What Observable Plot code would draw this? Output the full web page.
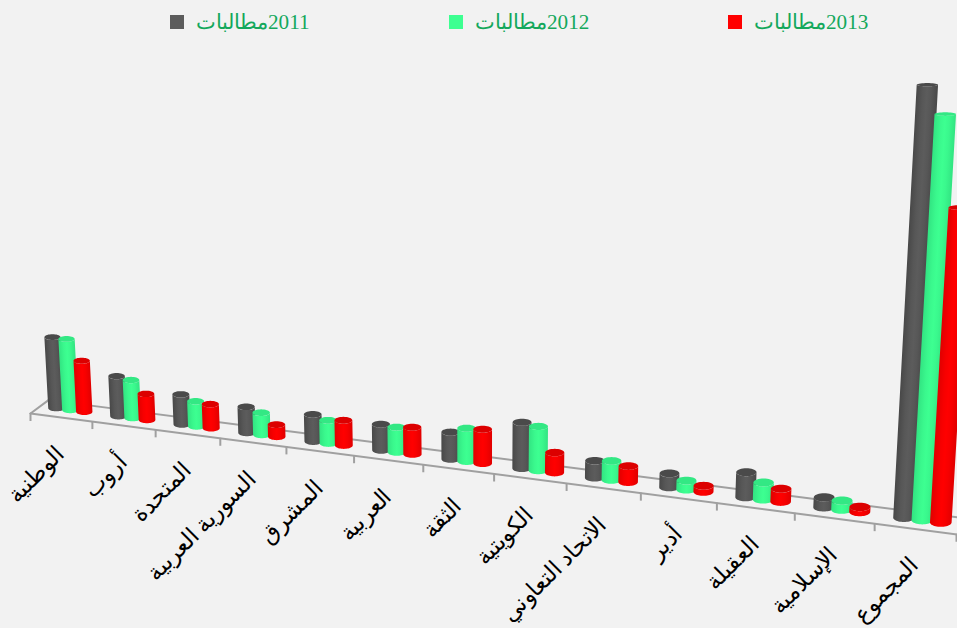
<!DOCTYPE html>
<html><head><meta charset="utf-8">
<script src="https://cdn.jsdelivr.net/npm/d3@7"></script>
<script src="https://cdn.jsdelivr.net/npm/@observablehq/plot@0.6"></script>
<style>
html,body{margin:0;padding:0;background:#f2f2f2;overflow:hidden}
#wrap{position:relative;width:957px;height:628px}
.lg{position:absolute;top:8px;display:flex;align-items:center;height:28px;font:21.2px "Liberation Serif",serif;color:#14a85c}
.lg i{display:inline-block;width:14px;height:14px;margin-right:12px}
.lg span{direction:rtl;unicode-bidi:isolate;white-space:nowrap}
</style></head><body><div id="wrap"></div>
<script>
const categories = ["الوطنية","أروب","المتحدة","السورية العربية","المشرق","العربية","الثقة","الكويتية","الاتحاد التعاوني","أدير","العقيلة","الإسلامية","المجموع"];
const series2011 = [71,40,30,26,27,26,27,46,17,14,25,10,433];
const series2012 = [71,38,25,22,23,25,33,44,19,9,17,9,406];
const series2013 = [51,26,24,12,25,27,34,20,16,6,13,5,315];
const seriesNames = ["2011مطالبات","2012مطالبات","2013مطالبات"];
const bodyColors = ["#5c5c5c","#3dff91","#ff0000"];
const edgeColors = ["#484848","#32e482","#e00000"];
const topColors = ["#4a4a4a","#33e884","#dc0000"];

const seriesValues = [series2011, series2012, series2013];
const n = categories.length;

// Perspective floor of the 3D scene, as in the original's tilted column chart
const floorX = u => 30 + 926 * u / (1 + 0.1636 * (1 - u));
const frontY = x => 413 + (x - 30) * 0.1305;
const backY = x => 476 + (x - 640) * 0.129;

const gradients = [];
function barParts(i, s, h) {
  const u = (i + 0.645 - 0.005 * i + (s - 1) * 0.225) / n;
  const cx = floorX(u);
  const r = 0.131 * (floorX(u + 0.5 / n) - floorX(u - 0.5 / n));
  const ry0 = 0.4 * r;
  const ryT = ry0 * (1 - h / 700);
  const yb = frontY(cx) - 5.5 - ry0;
  const yt = yb - h;
  const cxT = cx + (cx - 480) * h / 7800;
  const m = (cxT - cx) / h;
  const gid = `g${i}-${s}`;
  gradients.push({
    id: gid, s,
    x1: cx - r, y1: yb,
    x2: cx - r + 2 * r / (1 + m * m), y2: yb + 2 * r * m / (1 + m * m)
  });
  const rows = [];
  const fillBody = `url(#${gid})`;
  const K = 24;
  for (let k = 0; k <= K; k++) {
    const a = -Math.PI / 2 + Math.PI * k / K;
    rows.push({x: cxT + r * Math.sin(a), y: yt + ryT * Math.cos(a), z: `b${i}-${s}`, c: fillBody});
  }
  for (let k = K; k >= 0; k--) {
    const a = -Math.PI / 2 + Math.PI * k / K;
    rows.push({x: cx + r * Math.sin(a), y: yb + ry0 * Math.cos(a), z: `b${i}-${s}`, c: fillBody});
  }
  for (let k = 0; k < 36; k++) {
    const a = 2 * Math.PI * k / 36;
    rows.push({x: cxT + r * Math.sin(a), y: yt + ryT * Math.cos(a), z: `t${i}-${s}`, c: topColors[s]});
  }
  return rows;
}
const bars = seriesValues.flatMap((vals, s) => vals.flatMap((v, i) => barParts(i, s, v)));

function gradientDefs() {
  const svg = d3.create("svg:g");
  const g = svg.append("defs").selectAll("linearGradient").data(gradients).join("linearGradient")
    .attr("id", d => d.id).attr("gradientUnits", "userSpaceOnUse")
    .attr("x1", d => d.x1).attr("y1", d => d.y1).attr("x2", d => d.x2).attr("y2", d => d.y2);
  [[0, 0], [0.3, 0.75], [0.5, 1], [0.7, 0.75], [1, 0]].forEach(([o, w]) => {
    g.append("stop").attr("offset", o)
      .attr("stop-color", d => d3.interpolateRgb(edgeColors[d.s], bodyColors[d.s])(w));
  });
  return svg.node();
}

const ticks = d3.range(n + 1).map(i => {
  const x = floorX(i / n);
  return {x, y1: frontY(x), y2: frontY(x) + 8};
});
const labels = categories.map((name, i) => {
  const x = floorX((i + 0.5) / n) - 1;
  return {name, x, y: frontY(x) + 33};
});
const floorLines = [
  {x: 30, y: frontY(30), z: "side"}, {x: 48, y: backY(48), z: "side"},
  {x: 48, y: backY(48), z: "back"}, {x: 957, y: backY(957), z: "back"},
  {x: 30, y: frontY(30), z: "front"}, {x: 957, y: frontY(957), z: "front"}
];

const chart = Plot.plot({
  width: 957, height: 628, margin: 0,
  x: {domain: [0, 957], range: [0, 957], axis: null},
  y: {domain: [0, 628], range: [0, 628], axis: null},
  color: {type: "identity"},
  style: {background: "#f2f2f2", display: "block"},
  marks: [
    gradientDefs,
    Plot.line(floorLines, {x: "x", y: "y", z: "z", stroke: "#a0a0a0", strokeWidth: 2}),
    Plot.ruleX(ticks, {x: "x", y1: "y1", y2: "y2", stroke: "#a0a0a0", strokeWidth: 2}),
    Plot.line(bars, {x: "x", y: "y", z: "z", fill: "c", stroke: "none", curve: "linear-closed"}),
    Plot.text(labels, {x: "x", y: "y", text: "name", rotate: -45, textAnchor: "end",
      fontFamily: "Liberation Serif", fontSize: 23, fill: "#000"})
  ]
});
const wrap = document.getElementById("wrap");
wrap.appendChild(chart);
const legendLeft = [170, 449, 728];
seriesNames.forEach((name, s) => {
  const d = document.createElement("div");
  d.className = "lg";
  d.style.left = legendLeft[s] + "px";
  d.innerHTML = `<i style="background:${bodyColors[s]}"></i><span>${name}</span>`;
  wrap.appendChild(d);
});
</script></body></html>
